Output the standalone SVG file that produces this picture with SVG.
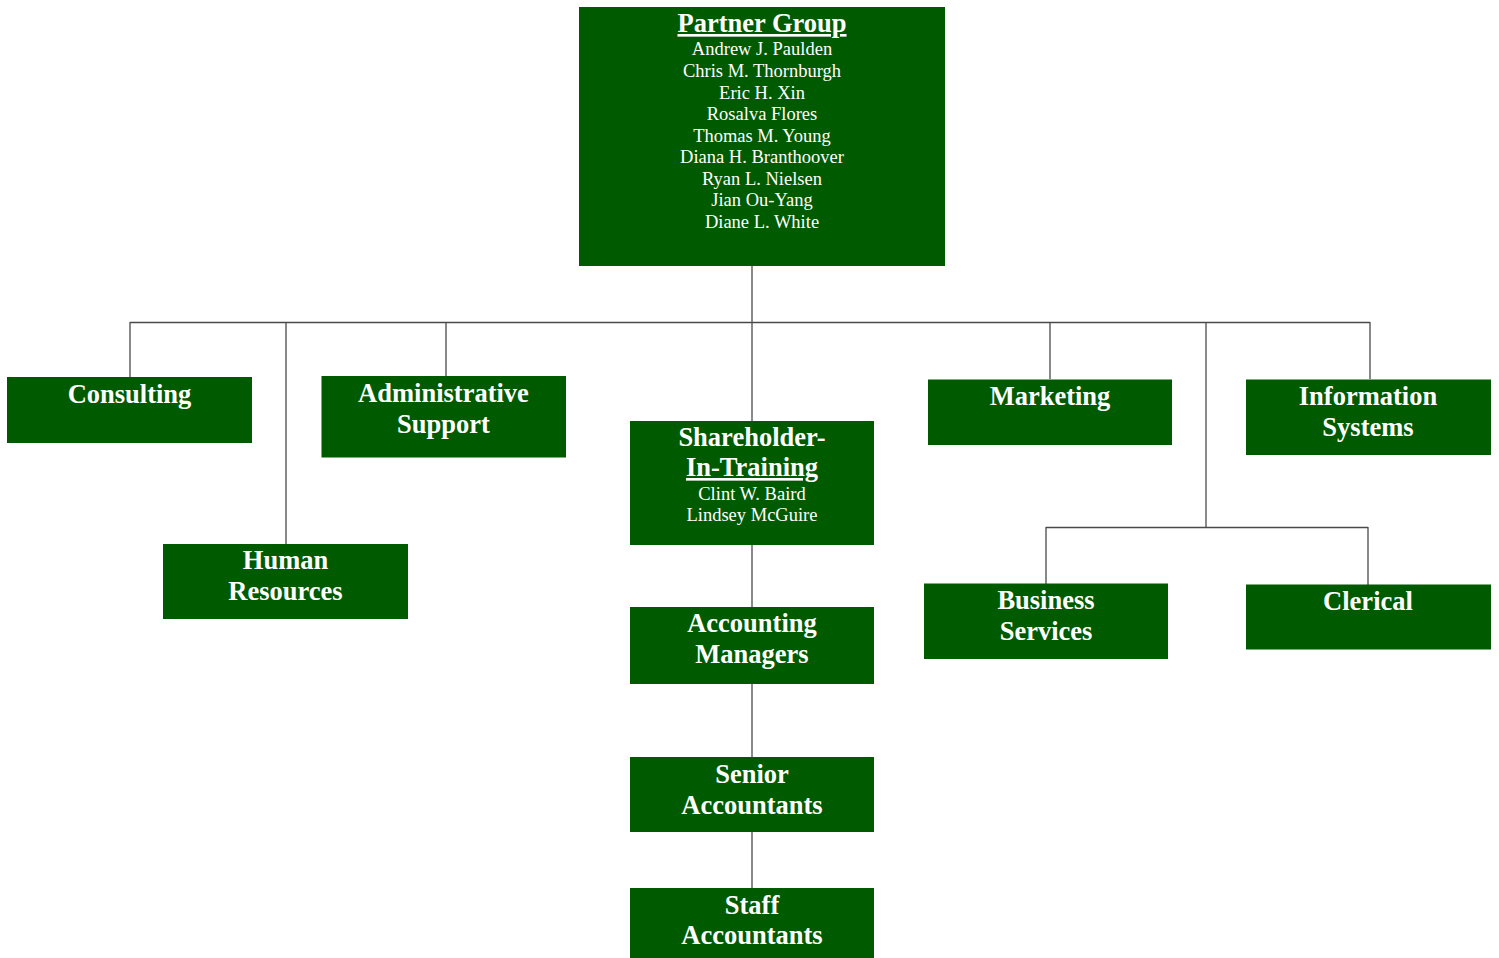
<svg xmlns="http://www.w3.org/2000/svg" width="1499" height="958" viewBox="0 0 1499 958">
<style>
.box{fill:#005a00}
.t{font-family:"Liberation Serif","Times New Roman",serif;fill:#ffffff;text-anchor:middle}
.h{font-size:26.5px;font-weight:bold}
.n{font-size:18.5px}
.u{text-decoration:underline}
.ln{stroke:#4a4a4a;stroke-width:1.3;fill:none}
.lg{stroke:#8a8a8a;stroke-width:2;fill:none}
</style>
<rect width="1499" height="958" fill="#ffffff"/>
<g id="connectors">
<path class="lg" d="M752 266V421M752 545V607M752 684V757M752 832V888M1206 322V527"/>
<path class="ln" d="M130 322.5H1370M130 322V377M286 322V544M446 322V376M1050 322V379M1370 322V379M1046 527.5H1368M1046 527V584M1368 527V585"/>
</g>
<g id="partner-group">
<rect class="box" x="579" y="7" width="366" height="259"/>
<text class="t h u" x="762" y="32">Partner Group</text>
<text class="t n" x="762" y="55">Andrew J. Paulden</text>
<text class="t n" x="762" y="77">Chris M. Thornburgh</text>
<text class="t n" x="762" y="98.5">Eric H. Xin</text>
<text class="t n" x="762" y="120">Rosalva Flores</text>
<text class="t n" x="762" y="141.5">Thomas M. Young</text>
<text class="t n" x="762" y="163">Diana H. Branthoover</text>
<text class="t n" x="762" y="184.5">Ryan L. Nielsen</text>
<text class="t n" x="762" y="206">Jian Ou-Yang</text>
<text class="t n" x="762" y="227.5">Diane L. White</text>
</g>
<g id="consulting">
<rect class="box" x="7" y="377" width="245" height="66"/>
<text class="t h" x="129.5" y="403">Consulting</text>
</g>
<g id="human-resources">
<rect class="box" x="163" y="544" width="245" height="75"/>
<text class="t h" x="285.5" y="569">Human</text>
<text class="t h" x="285.5" y="600">Resources</text>
</g>
<g id="administrative-support">
<rect class="box" x="321.5" y="376" width="244.5" height="81.5"/>
<text class="t h" x="443.5" y="401.5">Administrative</text>
<text class="t h" x="443.5" y="432.5">Support</text>
</g>
<g id="shareholder-in-training">
<rect class="box" x="630" y="421" width="244" height="124"/>
<text class="t h" x="752" y="446">Shareholder-</text>
<text class="t h u" x="752" y="476">In-Training</text>
<text class="t n" x="752" y="500">Clint W. Baird</text>
<text class="t n" x="752" y="521">Lindsey McGuire</text>
</g>
<g id="accounting-managers">
<rect class="box" x="630" y="607" width="244" height="77"/>
<text class="t h" x="752" y="632">Accounting</text>
<text class="t h" x="752" y="662.5">Managers</text>
</g>
<g id="senior-accountants">
<rect class="box" x="630" y="757" width="244" height="75"/>
<text class="t h" x="752" y="783">Senior</text>
<text class="t h" x="752" y="813.5">Accountants</text>
</g>
<g id="staff-accountants">
<rect class="box" x="630" y="888" width="244" height="70"/>
<text class="t h" x="752" y="913.5">Staff</text>
<text class="t h" x="752" y="943.5">Accountants</text>
</g>
<g id="marketing">
<rect class="box" x="928" y="379.5" width="244" height="65.5"/>
<text class="t h" x="1050" y="405">Marketing</text>
</g>
<g id="information-systems">
<rect class="box" x="1246" y="379.5" width="245" height="75.5"/>
<text class="t h" x="1368" y="404.5">Information</text>
<text class="t h" x="1368" y="435.5">Systems</text>
</g>
<g id="business-services">
<rect class="box" x="924" y="583.5" width="244" height="75.5"/>
<text class="t h" x="1046" y="608.5">Business</text>
<text class="t h" x="1046" y="639.5">Services</text>
</g>
<g id="clerical">
<rect class="box" x="1246" y="584.5" width="245" height="65"/>
<text class="t h" x="1368" y="609.5">Clerical</text>
</g>
</svg>
